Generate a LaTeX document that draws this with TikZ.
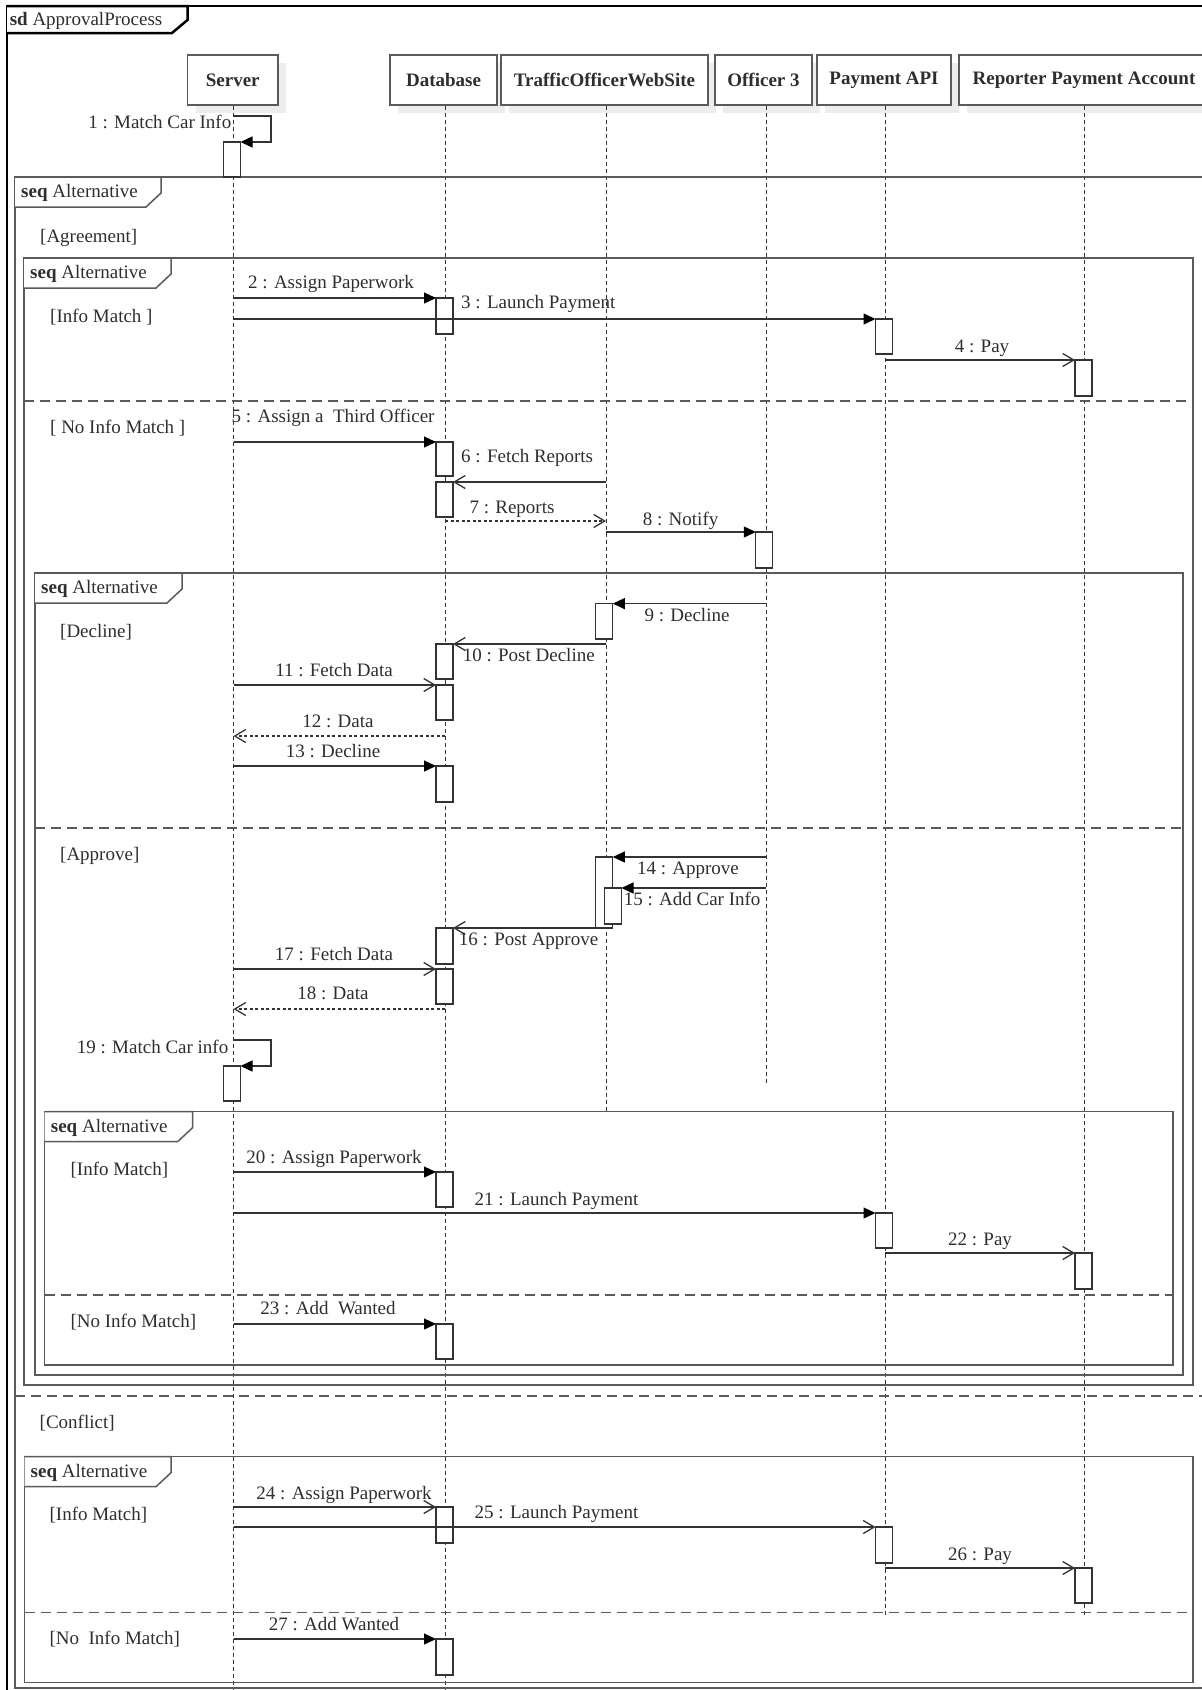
\documentclass[tikz,border=0pt]{standalone}
\usepackage{fontspec}
\setmainfont{Liberation Serif}
\usetikzlibrary{arrows.meta}
\definecolor{txt}{HTML}{2E2E2E}
\definecolor{ln}{HTML}{333333}
\definecolor{fr}{HTML}{5A5A5A}
\definecolor{shd}{HTML}{EDEDED}
\def\xS{233.5}\def\xD{445}\def\xT{606}\def\xO{766}\def\xP{885}\def\xR{1084.5}
\newcommand\actb[4]{\node[act,minimum height={#4-#3}] (#1) at (#2,{(#3+#4)/2}) {};}
\newcommand\fragtab[4]{%
  \draw[frame,fill=white] (#2,#3) -- (#4,#3) -- (#4,#3+16) -- (#4-15,#3+30) -- (#2,#3+30);
  \node[lbl,anchor=west] (#1) at (#2+6,#3+15) {\textbf{seq} Alternative};}
\begin{document}
\begin{tikzpicture}[x=1pt,y=-1pt,
  lbl/.style={text=txt,inner sep=0pt,text height=14pt,text depth=2.5pt,font=\fontsize{19}{22}\selectfont},
  head/.style={draw=fr,line width=1.3pt,fill=white,inner sep=0pt,minimum height=50pt,
    font=\fontsize{19}{22}\selectfont\bfseries,text=txt},
  life/.style={draw=ln,line width=1pt,dash pattern=on 4pt off 3pt},
  frame/.style={draw=fr,line width=1.5pt},
  sdframe/.style={draw=black,line width=2.5pt},
  sep/.style={draw=fr,line width=1.5pt,dash pattern=on 10pt off 6pt},
  act/.style={draw=ln,fill=white,line width=1.3pt,minimum width=17pt,inner sep=0pt,outer sep=0pt},
  msgf/.style={draw=ln,line width=1.3pt,-{Triangle[length=12pt,width=11pt,color=black]}},
  msgo/.style={draw=ln,line width=1.3pt,-{Straight Barb[length=11pt,width=13pt,line width=1.3pt]}},
  msgr/.style={msgo,dash pattern=on 3pt off 2.5pt}
]
\useasboundingbox (0,0) rectangle (1202,1690);
\clip (0,0) rectangle (1202,1690);

% shadows of heads
\fill[shd] (195.5,63) rectangle (286,113);
\fill[shd] (398,63) rectangle (505,113);
\fill[shd] (509,63) rectangle (716,113);
\fill[shd] (723,63) rectangle (820,113);
\fill[shd] (825,63) rectangle (959,113);
\fill[shd] (967,63) rectangle (1215,113);

% lifeline heads
\node[head,minimum width=90.5pt] (hS) at (232.75,80) {Server};
\node[head,minimum width=107pt] (hD) at (443.5,80) {Database};
\node[head,minimum width=207pt] (hT) at (604.5,80) {TrafficOfficerWebSite};
\node[head,minimum width=97pt] (hO) at (763.5,80) {Officer 3};
\node[head,minimum width=134pt] (hP) at (884,80) {Payment API};
\node[head,minimum width=250pt] (hR) at (1084,80) {Reporter Payment Account};

% lifelines
\coordinate (eS) at (\xS,1692);
\coordinate (eD) at (\xD,1692);
\coordinate (eT) at (\xT,1112);
\coordinate (eO) at (\xO,1084);
\coordinate (eP) at (\xP,1617);
\coordinate (eR) at (\xR,1617);
\draw[life] (hS.south -| eS) -- (eS);
\draw[life] (hD.south -| eD) -- (eD);
\draw[life] (hT.south -| eT) -- (eT);
\draw[life] (hO.south -| eO) -- (eO);
\draw[life] (hP.south -| eP) -- (eP);
\draw[life] (hR.south -| eR) -- (eR);

% frames
\draw[sdframe] (7,6) rectangle (1215,1697);
\draw[sdframe,fill=white] (7,6) -- (187.5,6) -- (187.5,20) -- (172,33) -- (7,33);
\node[lbl,anchor=west] (tsd) at (9.6,19.5) {\textbf{sd} ApprovalProcess};

\draw[frame] (15,177) rectangle (1212,1688);
\draw[sep] (15,1396) -- (1212,1396);
\fragtab{t0}{15}{177}{161}

\draw[frame] (24,258) rectangle (1193,1385);
\draw[sep] (24,401) -- (1193,401);
\fragtab{t1}{24}{258}{171}

\draw[frame] (35,573) rectangle (1183,1375);
\draw[sep] (35,828) -- (1183,828);
\fragtab{t2}{35}{573}{182}

\draw[frame] (44.7,1111.7) rectangle (1173,1365);
\draw[sep] (44.7,1295) -- (1173,1295);
\fragtab{t3}{44.7}{1111.7}{192.6}

\draw[frame] (24.5,1456.7) rectangle (1193,1682.7);
\draw[sep] (24.5,1612.7) -- (1193,1612.7);
\fragtab{t4}{24.5}{1456.7}{171}

% guards
\node[lbl,anchor=west] (g1) at (40,237) {[Agreement]};
\node[lbl,anchor=west] (g2) at (50,317) {[Info Match ]};
\node[lbl,anchor=west] (g3) at (50,428) {[ No Info Match ]};
\node[lbl,anchor=west] (g4) at (60,632) {[Decline]};
\node[lbl,anchor=west] (g5) at (60,855) {[Approve]};
\node[lbl,anchor=west] (g6) at (70.4,1170) {[Info Match]};
\node[lbl,anchor=west] (g7) at (70.4,1322) {[No Info Match]};
\node[lbl,anchor=west] (g8) at (39.5,1423) {[Conflict]};
\node[lbl,anchor=west] (g9) at (49.4,1515) {[Info Match]};
\node[lbl,anchor=west] (g10) at (49.4,1639) {[No\ \ Info Match]};

% activation boxes
\actb{a1}{232}{142}{177}
\actb{a2}{444.5}{298}{334}
\actb{a3}{884}{319}{354}
\actb{a4}{1083.5}{360}{396}
\actb{a5}{444.5}{442}{476}
\actb{a6}{444.5}{482}{517}
\actb{a8}{764.3}{532}{568}
\actb{a9}{604.3}{603.6}{639}
\actb{a10}{444.5}{644}{679}
\actb{a11}{444.5}{685}{720}
\actb{a13}{444.5}{766}{802}
\actb{a14}{604.3}{857}{928}
\actb{a15}{613}{888}{924}
\actb{a16}{444.5}{928}{964}
\actb{a17}{444.5}{969}{1004}
\actb{a19}{232}{1066}{1101}
\actb{a20}{444.5}{1172}{1207}
\actb{a21}{884}{1213}{1248}
\actb{a22}{1083.5}{1253}{1289}
\actb{a23}{444.5}{1324}{1359}
\actb{a24}{444.5}{1507}{1543}
\actb{a25}{884}{1527}{1563}
\actb{a26}{1083.5}{1568}{1603}
\actb{a27}{444.5}{1639}{1675}

% message start points
\coordinate (s1) at (\xS,116);
\coordinate (s2) at (\xS,298);
\coordinate (s3) at (\xS,319);
\coordinate (s4) at (\xP,360);
\coordinate (s5) at (\xS,442);
\coordinate (s6) at (\xT,482);
\coordinate (s7) at (\xD,521);
\coordinate (e7) at (\xT,521);
\coordinate (s8) at (\xT,532);
\coordinate (s9) at (\xO,603.6);
\coordinate (s10) at (\xT,644);
\coordinate (s11) at (\xS,685);
\coordinate (s12) at (\xD,736);
\coordinate (e12) at (\xS,736);
\coordinate (s13) at (\xS,766);
\coordinate (s14) at (\xO,857);
\coordinate (s15) at (\xO,888);
\coordinate (s17) at (\xS,969);
\coordinate (s18) at (\xD,1009);
\coordinate (e18) at (\xS,1009);
\coordinate (s19) at (\xS,1040);
\coordinate (s20) at (\xS,1172);
\coordinate (s21) at (\xS,1213);
\coordinate (s22) at (\xP,1253);
\coordinate (s23) at (\xS,1324);
\coordinate (s24) at (\xS,1507);
\coordinate (s25) at (\xS,1527);
\coordinate (s26) at (\xP,1568);
\coordinate (s27) at (\xS,1639);

% messages
\draw[msgf] (s1) -- ++(37.5,0) |- (a1.north east);
\draw[msgf] (s2) -- (a2.north west);
\draw[msgf] (s3) -- (a3.north west);
\draw[msgo] (s4) -- (a4.north west);
\draw[msgf] (s5) -- (a5.north west);
\draw[msgo] (s6) -- (a6.north east);
\draw[msgr] (s7) -- (e7);
\draw[msgf] (s8) -- (a8.north west);
\draw[msgf] (s9) -- (a9.north east);
\draw[msgo] (s10) -- (a10.north east);
\draw[msgo] (s11) -- (a11.north west);
\draw[msgr] (s12) -- (e12);
\draw[msgf] (s13) -- (a13.north west);
\draw[msgf] (s14) -- (a14.north east);
\draw[msgf] (s15) -- (a15.north east);
\draw[msgo] (a14.south) -- (a16.north east);
\draw[msgo] (s17) -- (a17.north west);
\draw[msgr] (s18) -- (e18);
\draw[msgf] (s19) -- ++(37.5,0) |- (a19.north east);
\draw[msgf] (s20) -- (a20.north west);
\draw[msgf] (s21) -- (a21.north west);
\draw[msgo] (s22) -- (a22.north west);
\draw[msgf] (s23) -- (a23.north west);
\draw[msgo] (s24) -- (a24.north west);
\draw[msgo] (s25) -- (a25.north west);
\draw[msgo] (s26) -- (a26.north west);
\draw[msgf] (s27) -- (a27.north west);

% message labels
\node[lbl,anchor=east] (l1) at (231.5,123) {1 : Match Car Info};
\node[lbl] (l2) at (331,283) {2 : Assign Paperwork};
\node[lbl,anchor=west] (l3) at (461,303) {3 : Launch Payment};
\node[lbl] (l4) at (982,347) {4 : Pay};
\node[lbl,anchor=west] (l5) at (231.5,417) {5 : Assign a\ \ Third Officer};
\node[lbl,anchor=west] (l6) at (461,457) {6 : Fetch Reports};
\node[lbl] (l7) at (512,508) {7 : Reports};
\node[lbl] (l8) at (680.6,520) {8 : Notify};
\node[lbl] (l9) at (687,616) {9 : Decline};
\node[lbl,anchor=west] (l10) at (462.6,656) {10 : Post Decline};
\node[lbl] (l11) at (334,671) {11 : Fetch Data};
\node[lbl] (l12) at (338,722) {12 : Data};
\node[lbl] (l13) at (333,752) {13 : Decline};
\node[lbl] (l14) at (688,869) {14 : Approve};
\node[lbl,anchor=west] (l15) at (623.6,900) {15 : Add Car Info};
\node[lbl,anchor=west] (l16) at (458.7,940) {16 : Post Approve};
\node[lbl] (l17) at (334,955) {17 : Fetch Data};
\node[lbl] (l18) at (333,994) {18 : Data};
\node[lbl,anchor=east] (l19) at (228.5,1048) {19 : Match Car info};
\node[lbl] (l20) at (334,1158) {20 : Assign Paperwork};
\node[lbl,anchor=west] (l21) at (474.5,1200) {21 : Launch Payment};
\node[lbl] (l22) at (980,1240) {22 : Pay};
\node[lbl] (l23) at (328,1309) {23 : Add\ \ Wanted};
\node[lbl] (l24) at (344,1494) {24 : Assign Paperwork};
\node[lbl,anchor=west] (l25) at (474.5,1513) {25 : Launch Payment};
\node[lbl] (l26) at (980,1555) {26 : Pay};
\node[lbl] (l27) at (334,1625) {27 : Add Wanted};
\end{tikzpicture}
\end{document}
